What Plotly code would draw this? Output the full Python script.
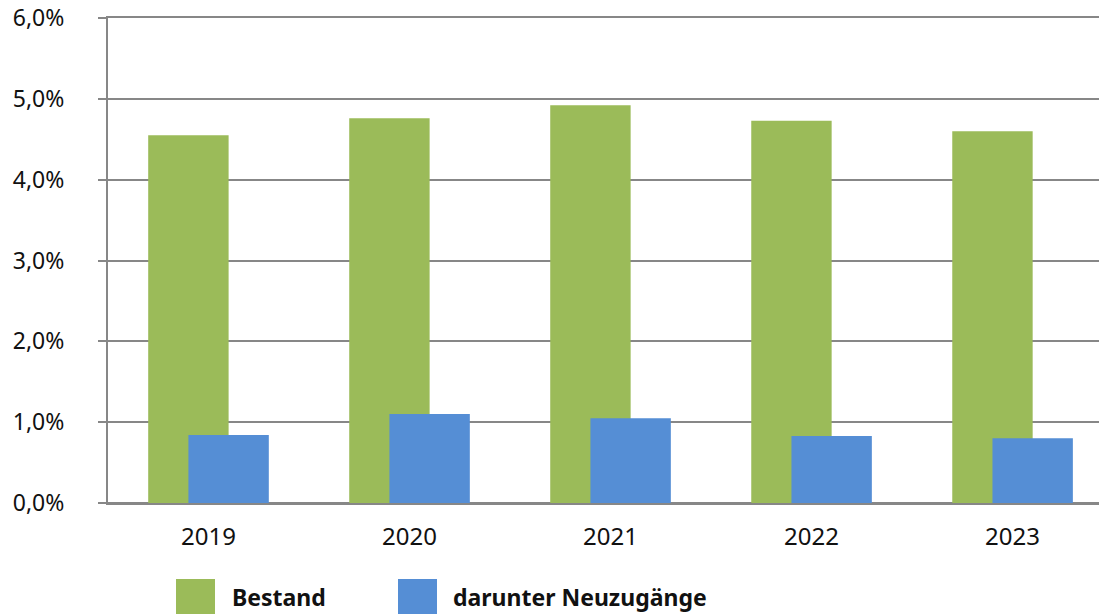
import plotly.graph_objects as go

years = ["2019", "2020", "2021", "2022", "2023"]
bestand = [4.55, 4.76, 4.92, 4.73, 4.60]
neuzugaenge = [0.84, 1.10, 1.05, 0.83, 0.80]
y_ticks = [0, 1, 2, 3, 4, 5, 6]
y_labels = ["0,0%", "1,0%", "2,0%", "3,0%", "4,0%", "5,0%", "6,0%"]

GREEN = "#9BBB59"
BLUE = "#558ED5"
GRID = "#878787"
FONT = "Noto Sans"

W, H = 1099, 614
L, T, B, R = 108, 18, 111, 0

xpos = list(range(len(years)))

fig = go.Figure()
fig.add_trace(go.Bar(x=xpos, y=bestand, name="Bestand", marker_color=GREEN,
                     width=0.40, offset=-0.30, marker_line_width=0, showlegend=False))
fig.add_trace(go.Bar(x=xpos, y=neuzugaenge, name="darunter Neuzugänge", marker_color=BLUE,
                     width=0.40, offset=-0.10, marker_line_width=0, showlegend=False))

fig.update_layout(
    width=W, height=H,
    margin=dict(l=L, r=R, t=T, b=B, autoexpand=False),
    barmode="overlay",
    plot_bgcolor="white", paper_bgcolor="white",
    font=dict(family=FONT, size=23, color="#111"),
)
fig.update_xaxes(
    range=[-0.5, 4.43], tickvals=xpos, ticktext=years,
    showgrid=False, zeroline=False, ticks="",
    showline=True, mirror=True, linecolor=GRID, linewidth=2,
    ticklabelstandoff=11, tickfont=dict(size=24), automargin=False,
)
fig.update_yaxes(
    range=[0, 6], tickvals=y_ticks, ticktext=y_labels,
    showgrid=True, gridcolor=GRID, gridwidth=2,
    zeroline=True, zerolinecolor=GRID, zerolinewidth=2,
    showline=True, linecolor=GRID, linewidth=2,
    ticks="outside", ticklen=8, tickwidth=2, tickcolor=GRID,
    ticklabelstandoff=29, tickfont=dict(size=23),
    ticklabeloverflow="allow", automargin=False,
)

# legend drawn manually at the bottom (positions given in pixels)
legend_items = [("Bestand", GREEN, 176, 232), ("darunter Neuzugänge", BLUE, 398, 453)]
plot_h = H - T - B
plot_w = W - L - R
def px_to_paper_x(px):
    return (px - L) / plot_w
def px_to_paper_y(py):
    return (H - B - py) / plot_h
for label, col, sx, tx in legend_items:
    fig.add_shape(type="rect", xref="paper", yref="paper",
                  x0=px_to_paper_x(sx), x1=px_to_paper_x(sx + 39),
                  y0=px_to_paper_y(614), y1=px_to_paper_y(579),
                  fillcolor=col, line_width=0)
    fig.add_annotation(xref="paper", yref="paper", x=px_to_paper_x(tx), y=px_to_paper_y(597),
                       text="<b>" + label + "</b>", showarrow=False, xanchor="left", yanchor="middle",
                       xshift=-2, font=dict(family=FONT, size=23, color="#111"))

fig.write_html("out.html", config={"displayModeBar": False},
               post_script="document.body.style.margin='0';")
